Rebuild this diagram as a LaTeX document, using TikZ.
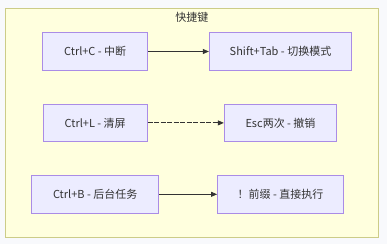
\documentclass[tikz,border=0pt]{standalone}
\usepackage{fontspec}
\setmainfont{Noto Sans CJK SC}
\usetikzlibrary{arrows.meta, positioning, fit, backgrounds}
\definecolor{pagebg}{RGB}{248,249,252}
\definecolor{grpfill}{RGB}{255,255,222}
\definecolor{grpline}{RGB}{204,204,136}
\definecolor{keyfill}{RGB}{236,236,255}
\definecolor{keyline}{RGB}{170,140,230}
\definecolor{linkdark}{RGB}{51,51,51}
\tikzset{
  keybox/.style={rectangle, draw=keyline, fill=keyfill, line width=0.9pt,
    minimum height=37.6pt, font=\fontsize{11pt}{13pt}\selectfont, text=linkdark},
  group/.style={rectangle, draw=grpline, fill=grpfill, line width=1pt,
    inner xsep=26pt, inner ysep=23.7pt},
  link/.style={-{Triangle[length=6pt, width=5pt]}, line width=0.7pt, color=linkdark},
  dotlink/.style={link, line width=0.9pt, dash pattern=on 5pt off 1.5pt}
}
\begin{document}
\begin{tikzpicture}[node distance=71.4pt and 185.3pt, on grid]
  \useasboundingbox (0,0) rectangle (387pt,-244pt);

  % left column
  \node[keybox, minimum width=105pt] (ctrlc) at (95.2pt,-51.5pt) {Ctrl+C - 中断};
  \node[keybox, minimum width=103.7pt, below=of ctrlc] (ctrll) {Ctrl+L - 清屏};
  \node[keybox, minimum width=126.7pt, below=of ctrll] (ctrlb) {Ctrl+B - 后台任务};

  % right column
  \node[keybox, minimum width=142.4pt, right=of ctrlc] (shtab) {Shift+Tab - 切换模式};
  \node[keybox, minimum width=112.4pt, right=of ctrll] (esc) {Esc两次 - 撤销};
  \node[keybox, minimum width=126pt, right=of ctrlb] (bang) {！前缀 - 直接执行};

  % canvas and group frame
  \begin{scope}[on background layer]
    \fill[pagebg] (0,0) rectangle (387pt,-244pt);
    \node[group, fit=(ctrlb) (shtab) (ctrlc) (bang)] (grp) {};
  \end{scope}
  \node[anchor=north, font=\fontsize{11pt}{13pt}\selectfont, text=linkdark]
    (grptitle) at ([yshift=-1pt]grp.north) {快捷键};

  \draw[link] (ctrlc) -- (shtab);
  \draw[dotlink] (ctrll) -- (esc);
  \draw[link] (ctrlb) -- (bang);
\end{tikzpicture}
\end{document}
